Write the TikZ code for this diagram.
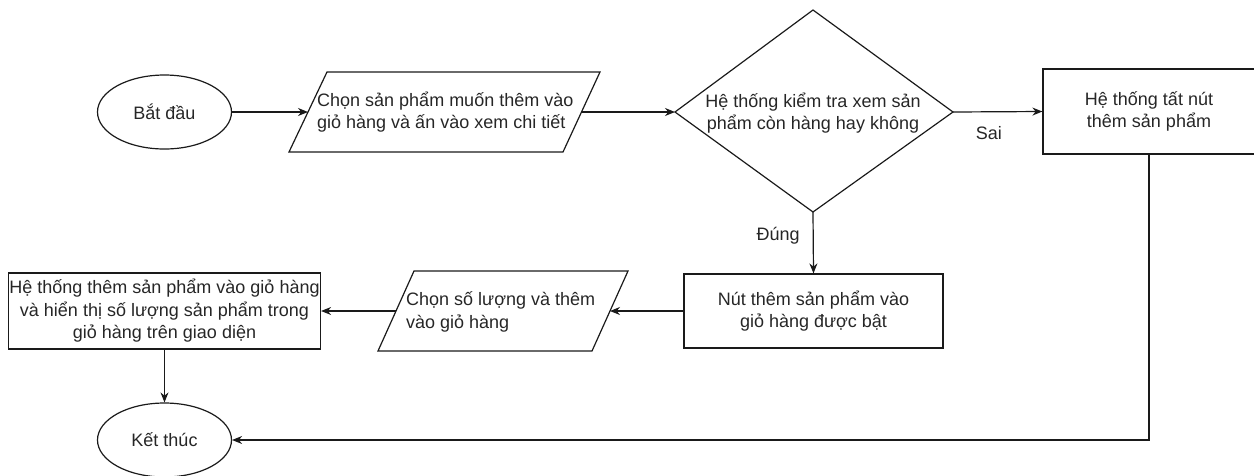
\documentclass[tikz,border=0pt]{standalone}
\usepackage{fontspec}
\setmainfont{Liberation Sans}
\usetikzlibrary{arrows.meta,shapes.geometric}
\definecolor{ink}{HTML}{1A1A1A}
\definecolor{txt}{HTML}{262626}
\begin{document}
\begin{tikzpicture}[x=1pt,y=-1pt,
  font=\fontsize{18}{22.5}\selectfont,
  outline/.style={draw=ink, line width=1.2pt},
  terminal/.style={outline, ellipse, minimum width=134pt, minimum height=74pt, inner sep=0pt, text=txt},
  process/.style={outline, rectangle, align=center, inner sep=0pt, text=txt},
  caption/.style={text=txt, inner sep=0pt},
  flow/.style={draw=ink, line width=1.2pt, -{Stealth[length=10pt,width=8pt]}},
]
\useasboundingbox (0,0) rectangle (1254,475);

% start / end terminals
\node[terminal] (start) at (164.5,112) {Bắt đầu};
\node[terminal] (end) at (164.5,440) {Kết thúc};

% first input: choose product
\coordinate (p1a) at (327,72);
\coordinate (p1b) at (600,72);
\coordinate (p1c) at (563,152);
\coordinate (p1d) at (289,152);
\coordinate (p1w) at (308,112);
\coordinate (p1e) at (581.5,112);
\draw[outline] (p1a) -- (p1b) -- (p1c) -- (p1d) -- cycle;
\node[caption, anchor=west, align=left] (choose) at (317,112)
  {Chọn sản phẩm muốn thêm vào\\giỏ hàng và ấn vào xem chi tiết};

% stock check decision
\coordinate (dT) at (813,10);
\coordinate (dR) at (953,112);
\coordinate (dB) at (813,212);
\coordinate (dL) at (675,112);
\draw[outline] (dT) -- (dR) -- (dB) -- (dL) -- cycle;
\node[caption, align=center] (check) at (813,113)
  {Hệ thống kiểm tra xem sản\\phẩm còn hàng hay không};

% processes
\node[process, minimum width=212pt, minimum height=85pt] (off) at (1149,111.5)
  {Hệ thống tất nút\\thêm sản phẩm};
\node[process, minimum width=259pt, minimum height=74pt] (on) at (813.5,311)
  {Nút thêm sản phẩm vào\\giỏ hàng được bật};
\node[process, minimum width=312pt, minimum height=76pt] (show) at (164.5,311)
  {Hệ thống thêm sản phẩm vào giỏ hàng\\và hiển thị số lượng sản phẩm trong\\giỏ hàng trên giao diện};

% second input: quantity
\coordinate (p2a) at (414,271);
\coordinate (p2b) at (628,271);
\coordinate (p2c) at (592,351);
\coordinate (p2d) at (378,351);
\coordinate (p2w) at (396,311);
\coordinate (p2e) at (610,311);
\draw[outline] (p2a) -- (p2b) -- (p2c) -- (p2d) -- cycle;
\node[caption, anchor=west, align=left] (qty) at (406,312)
  {Chọn số lượng và thêm\\vào giỏ hàng};

% connectors
\draw[flow] (start.east) -- (p1w);
\draw[flow] (p1e) -- (dL);
\draw[flow] (dR) -- (off.west) node[caption, pos=0.4, below=14pt] (no) {Sai};
\draw[flow] (dB) -- (on.north) node[caption, pos=0.38, left=13pt] (yes) {Đúng};
\draw[flow] (on.west) -- (p2e);
\draw[flow] (p2w) -- (show.east);
\draw[flow] (show.south) -- (end.north);
\draw[flow] (off.south) |- (end.east);
\end{tikzpicture}
\end{document}
